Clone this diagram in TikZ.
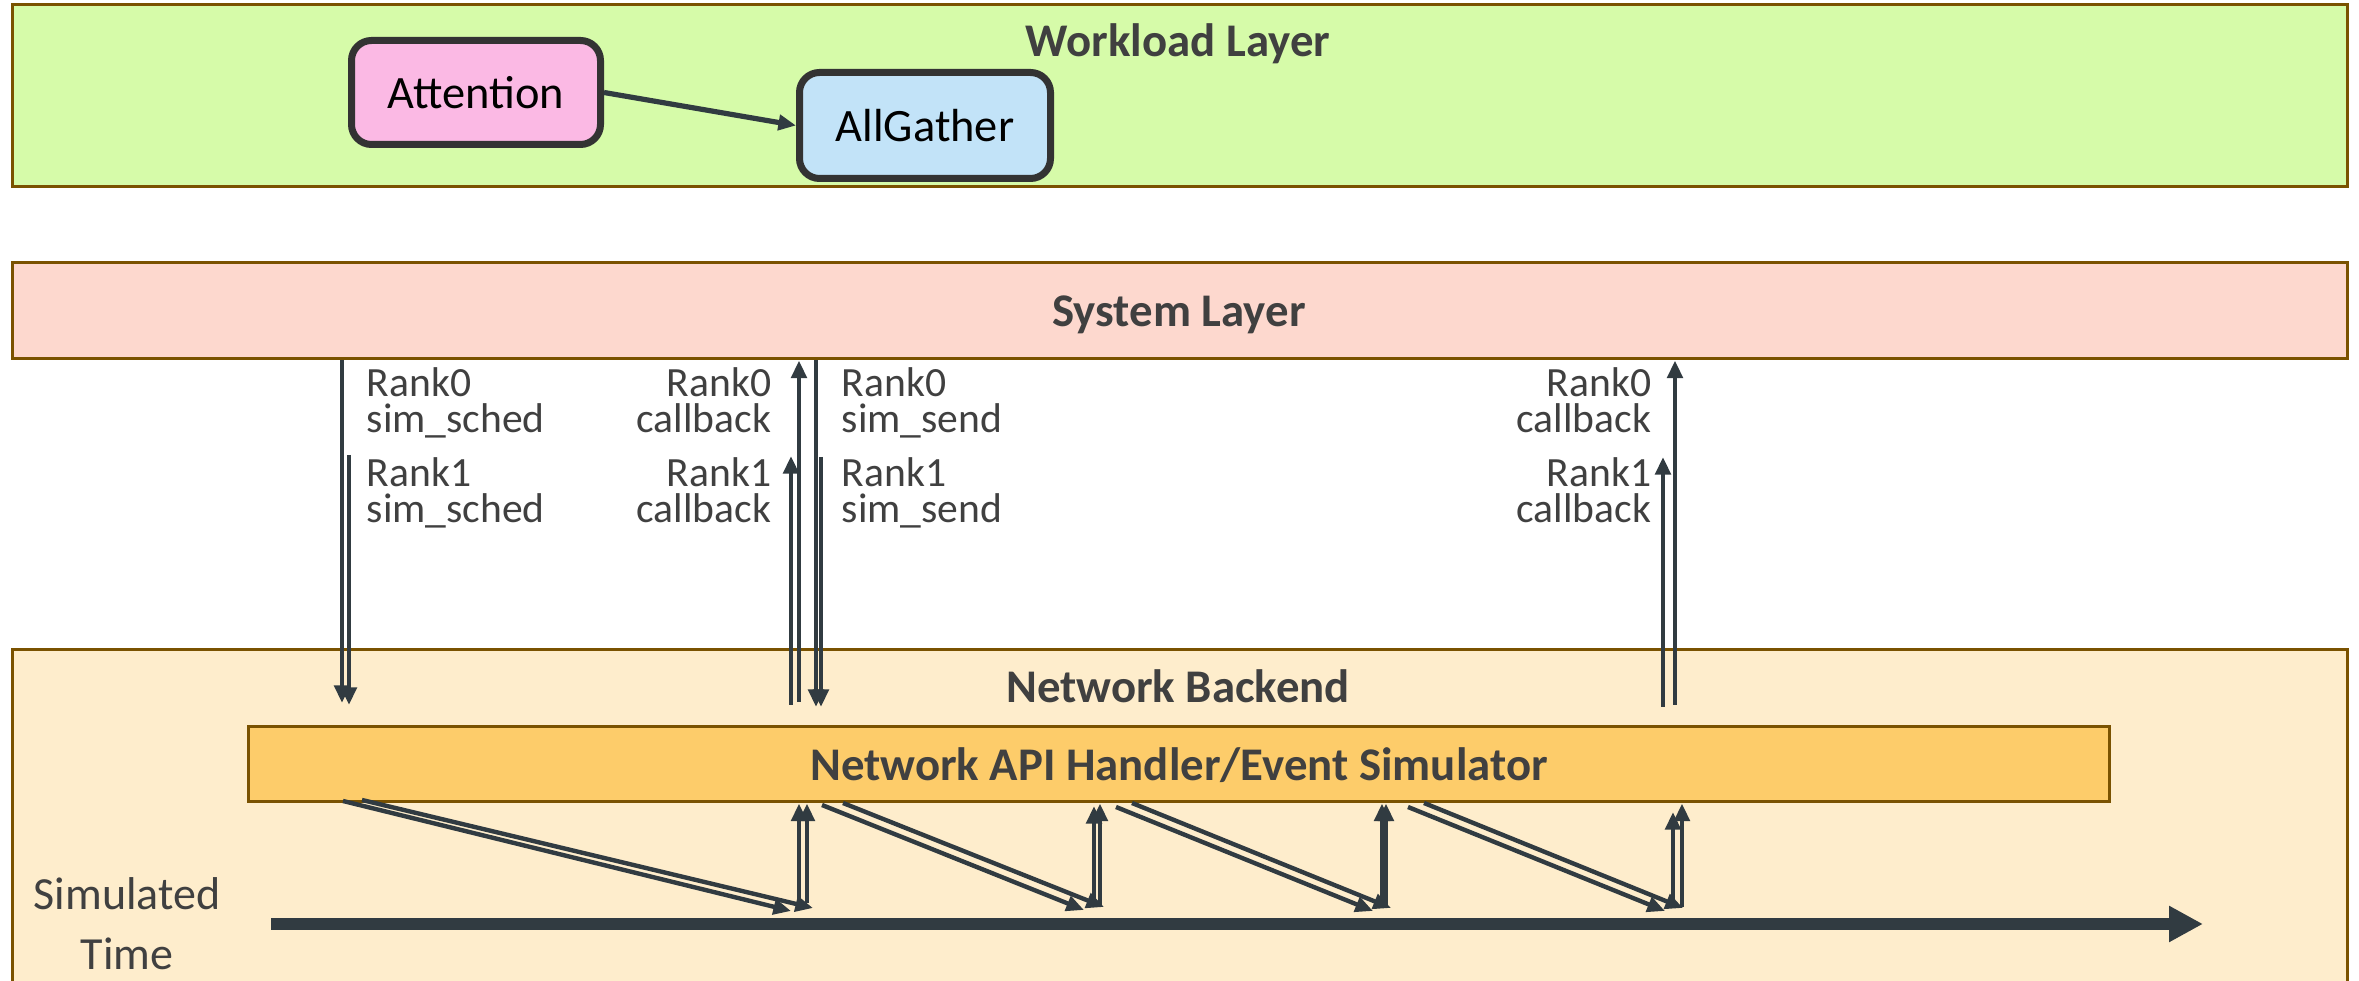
\documentclass[tikz,border=0pt]{standalone}
\usepackage{fontspec}
\setmainfont{Carlito}
\usetikzlibrary{arrows.meta,positioning}
\definecolor{wlfill}{HTML}{D6FBA9}
\definecolor{sysfill}{HTML}{FDD8CE}
\definecolor{netfill}{HTML}{FEEDCC}
\definecolor{apifill}{HTML}{FDCC6A}
\definecolor{attnfill}{HTML}{FBB9E4}
\definecolor{agfill}{HTML}{C2E3F8}
\definecolor{layerline}{HTML}{7A5200}
\definecolor{arrowc}{HTML}{313B41}
\definecolor{txtc}{HTML}{404040}

\tikzset{
  layer/.style={draw=layerline, line width=0.75pt, inner sep=0pt},
  opbox/.style={draw=black!80, line width=1.75pt, rounded corners=5pt, inner sep=0pt, font=\fontsize{11.6}{13}\selectfont},
  title/.style={font=\bfseries\fontsize{11.7}{13}\selectfont, text=txtc, inner sep=0pt, anchor=base},
  lbl/.style={font=\fontsize{10.4}{9}\selectfont, text=txtc, inner sep=0pt},
  call/.style={draw=arrowc, line width=1.1pt, -{Triangle[length=4.4pt,width=3.8pt]}},
  timeline/.style={draw=arrowc, line width=3pt, -{Triangle[length=8.5pt,width=8.5pt]}},
}

\begin{document}
\begin{tikzpicture}[x=0.25pt,y=0.25pt,yscale=-1,xscale=1]
\useasboundingbox (0,0) rectangle (2359,981);

%Layers
\node[layer, fill=wlfill, minimum width=583.75pt, minimum height=45.5pt] (wl) at (1179.5,96) {};
\node[layer, fill=sysfill, minimum width=583.75pt, minimum height=24pt] (sys) at (1179.5,311) {};
\node[layer, fill=netfill, minimum width=583.75pt, minimum height=86.25pt] (net) at (1179.5,822.5) {};
\node[layer, fill=apifill, minimum width=465.25pt, minimum height=18.75pt] (api) at (1178.5,764.5) {};

% Text Node
\node[title] (wltitle) at (1178,57) {Workload Layer};
% Text Node
\node[title] (systitle) at (1179,327) {System Layer};
% Text Node
\node[title] (nettitle) at (1178,703) {Network Backend};
% Text Node
\node[title] (apititle) at (1179,781) {Network API Handler/Event Simulator};

%Workload ops
\node[opbox, fill=attnfill, minimum width=62.25pt, minimum height=26pt] (attn) at (476,92.5) {Attention};
\node[opbox, fill=agfill, minimum width=62.75pt, minimum height=26.5pt] (ag) at (925,125.5) {AllGather};
\draw[draw=arrowc, line width=1.3pt, -{Triangle[length=4.4pt,width=3.8pt]}] (attn.east) -- (ag.west);

%Calls from System Layer
\coordinate (sd0) at (342,703);
\coordinate (sd1top) at (349,455);
\coordinate (sd1) at (349,705);
\draw[call] (sys.south -| sd0) -- (sd0);
\draw[call] (sd1top) -- (sd1);

\coordinate (cb0) at (799,702);
\coordinate (cb1) at (791,705);
\coordinate (cb1top) at (791,456);
\draw[call] (cb0) -- (cb0 |- sys.south);
\draw[call] (cb1) -- (cb1top);

\coordinate (sn0) at (816,707);
\coordinate (sn1top) at (821,457);
\coordinate (sn1) at (821,707);
\draw[call] (sys.south -| sn0) -- (sn0);
\draw[call] (sn1top) -- (sn1);

\coordinate (rcb0) at (1675,705);
\coordinate (rcb1) at (1663,707);
\coordinate (rcb1top) at (1663,457);
\draw[call] (rcb0) -- (rcb0 |- sys.south);
\draw[call] (rcb1) -- (rcb1top);

% Text Node (base = last line)
\node[lbl, align=left, anchor=base west] (sched0) at (366,433) {Rank0\\sim\_sched};
\node[lbl, align=left, anchor=base west] (sched1) at (366,523) {Rank1\\sim\_sched};
\node[lbl, align=right, anchor=base east] (cbl0) at (772,433) {Rank0\\callback};
\node[lbl, align=right, anchor=base east] (cbl1) at (772,523) {Rank1\\callback};
\node[lbl, align=left, anchor=base west] (send0) at (841,433) {Rank0\\sim\_send};
\node[lbl, align=left, anchor=base west] (send1) at (841,523) {Rank1\\sim\_send};
\node[lbl, align=right, anchor=base east] (rcbl0) at (1652,433) {Rank0\\callback};
\node[lbl, align=right, anchor=base east] (rcbl1) at (1652,523) {Rank1\\callback};

%Simulated time
\coordinate (t0) at (271,924);
\coordinate (t1) at (2203,924);
\draw[timeline] (t0) -- (t1);
\node[font=\fontsize{11.5}{15}\selectfont, text=txtc, align=center, anchor=base, inner sep=0pt] (simtime) at (127,970) {Simulated\\Time};

%Straight Lines: sends into simulated time
\coordinate (d1a) at (343,801); \coordinate (e1a) at (791,911);
\coordinate (d1b) at (362,800); \coordinate (e1b) at (813,908);
\draw[call] (d1a) -- (e1a);
\draw[call] (d1b) -- (e1b);
\coordinate (d2a) at (822,805); \coordinate (e2a) at (1084,910);
\coordinate (d2b) at (843,803); \coordinate (e2b) at (1104,907);
\draw[call] (d2a) -- (e2a);
\draw[call] (d2b) -- (e2b);
\coordinate (d3a) at (1116,807); \coordinate (e3a) at (1373,911);
\coordinate (d3b) at (1132,803); \coordinate (e3b) at (1391,908);
\draw[call] (d3a) -- (e3a);
\draw[call] (d3b) -- (e3b);
\coordinate (d4a) at (1408,807); \coordinate (e4a) at (1665,911);
\coordinate (d4b) at (1424,803); \coordinate (e4b) at (1683,908);
\draw[call] (d4a) -- (e4a);
\draw[call] (d4b) -- (e4b);

%Straight Lines: completions back to handler
\coordinate (u1a) at (799,898);
\coordinate (u1b) at (807,903);
\draw[call] (u1a) -- (u1a |- api.south);
\draw[call] (u1b) -- (u1b |- api.south);
\coordinate (u2a) at (1094,905);
\coordinate (u2b) at (1100,907);
\draw[call] (u2a) -- (1094,806);
\draw[call] (u2b) -- (u2b |- api.south);
\coordinate (u3a) at (1382,905);
\coordinate (u3b) at (1386,907);
\draw[call] (u3a) -- (u3a |- api.south);
\draw[call] (u3b) -- (u3b |- api.south);
\coordinate (u4a) at (1673,907);
\coordinate (u4b) at (1682,907);
\draw[call] (u4a) -- (1673,812);
\draw[call] (u4b) -- (u4b |- api.south);

\end{tikzpicture}
\end{document}
